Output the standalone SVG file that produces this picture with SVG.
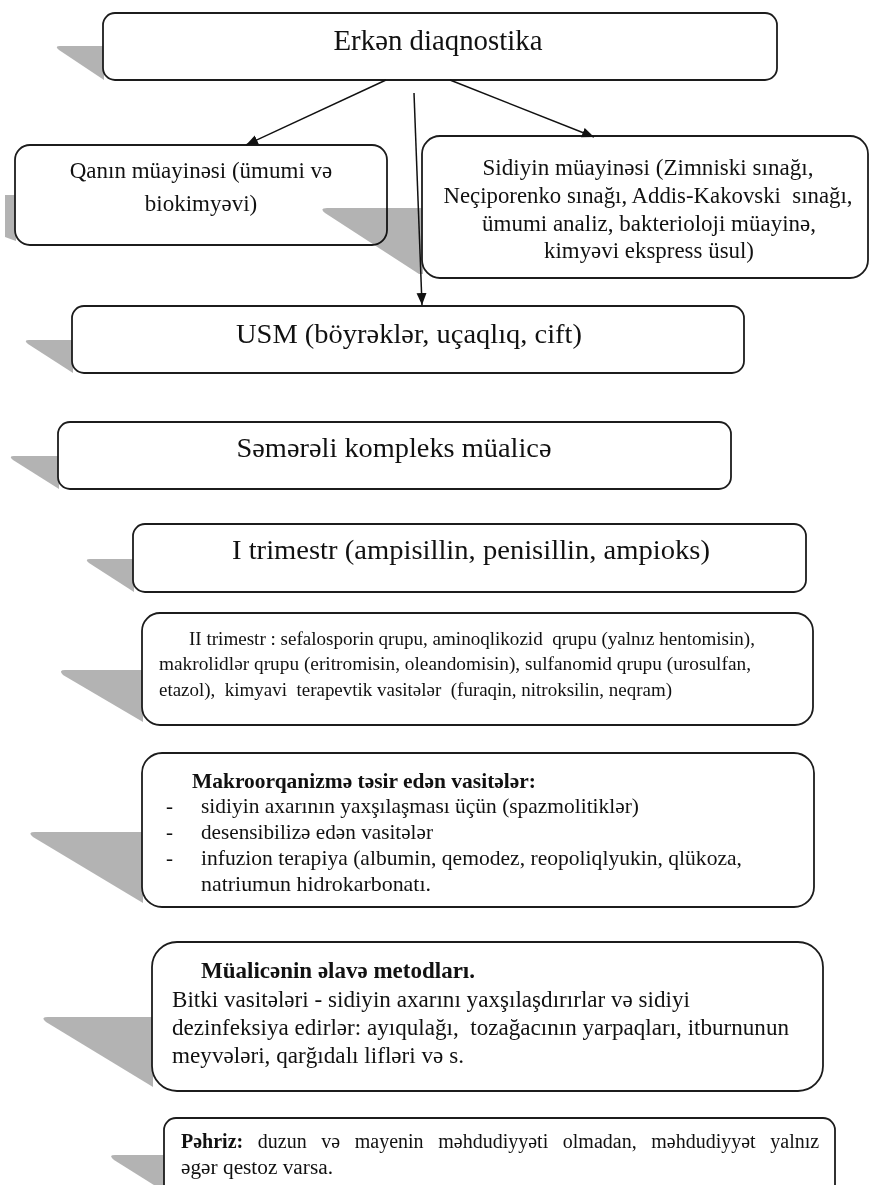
<svg xmlns="http://www.w3.org/2000/svg" width="870" height="1185" viewBox="0 0 870 1185">
<style>
.bg{fill:#ffffff}
.box{fill:#ffffff;stroke:#1c1c1c;stroke-width:1.8}
.sh{fill:#b3b3b3;stroke:none}
.t{font-family:"Liberation Serif","Times New Roman",serif;fill:#111111}
.h{font-size:28px}
.m{font-size:23px}
.s{font-size:18px}
.r{font-size:21px}
.p{font-size:20px}
.b{font-weight:bold}
.c{text-anchor:middle}
.ln{stroke:#111111;stroke-width:1.5;fill:none}
</style>
<defs>
<marker id="ah" markerUnits="userSpaceOnUse" markerWidth="13" markerHeight="11" refX="12" refY="5" orient="auto">
<path d="M0,0 L12,5 L0,10 Z" fill="#111111"/>
</marker>
</defs>
<rect class="bg" x="0" y="0" width="870" height="1185"/>

<g id="shadows">
<path class="sh" d="M104 46 L60 46 Q54 46 59 50 L104 80 Z"/>
<path class="sh" d="M16 195 L5 195 L5 237 L16 241 Z"/>
<path class="sh" d="M73 340 L29 340 Q23 340 28 344 L73 373 Z"/>
<path class="sh" d="M59 456 L14 456 Q8 456 13 460 L59 489 Z"/>
<path class="sh" d="M134 559 L90 559 Q84 559 89 563 L134 592 Z"/>
<path class="sh" d="M143 670 L65 670 Q58 670 63 675 L143 722 Z"/>
<path class="sh" d="M143 832 L35 832 Q27 832 33 837 L143 903 Z"/>
<path class="sh" d="M153 1017 L48 1017 Q40 1017 46 1022 L153 1087 Z"/>
<path class="sh" d="M165 1155 L115 1155 Q108 1155 114 1160 L165 1192 Z"/>
</g>

<g id="node-erken">
<rect class="box" x="103" y="13" width="674" height="67" rx="12"/>
<text class="t c" style="font-size:29px" x="438" y="50" textLength="209" lengthAdjust="spacingAndGlyphs">Erkən diaqnostika</text>
</g>

<g id="node-qan">
<rect class="box" x="15" y="145" width="372" height="100" rx="15"/>
<text class="t m c" x="201" y="178">Qanın müayinəsi (ümumi və</text>
<text class="t m c" x="201" y="211">biokimyəvi)</text>
</g>

<path id="shadow-sidiyin" class="sh" style="mix-blend-mode:multiply" d="M423 208 L327 208 Q319 208 325 213 L419 274 L423 274 Z"/>

<g id="node-sidiyin">
<rect class="box" x="422" y="136" width="446" height="142" rx="18"/>
<text class="t m c" x="648" y="175" textLength="331" lengthAdjust="spacingAndGlyphs">Sidiyin müayinəsi (Zimniski sınağı,</text>
<text class="t m c" x="648" y="203" xml:space="preserve" textLength="409" lengthAdjust="spacingAndGlyphs">Neçiporenko sınağı, Addis-Kakovski  sınağı,</text>
<text class="t m c" x="649" y="231" textLength="334" lengthAdjust="spacingAndGlyphs">ümumi analiz, bakterioloji müayinə,</text>
<text class="t m c" x="649" y="258" textLength="210" lengthAdjust="spacingAndGlyphs">kimyəvi ekspress üsul)</text>
</g>

<g id="node-usm">
<rect class="box" x="72" y="306" width="672" height="67" rx="12"/>
<text class="t h c" x="409" y="343" textLength="346" lengthAdjust="spacingAndGlyphs">USM (böyrəklər, uçaqlıq, cift)</text>
</g>

<g id="node-semereli">
<rect class="box" x="58" y="422" width="673" height="67" rx="12"/>
<text class="t h c" x="394" y="457" textLength="315" lengthAdjust="spacingAndGlyphs">Səmərəli kompleks müalicə</text>
</g>

<g id="node-trim1">
<rect class="box" x="133" y="524" width="673" height="68" rx="12"/>
<text class="t h c" x="471" y="559" textLength="478" lengthAdjust="spacingAndGlyphs">I trimestr (ampisillin, penisillin, ampioks)</text>
</g>

<g id="node-trim2">
<rect class="box" x="142" y="613" width="671" height="112" rx="18"/>
<text class="t s" x="189" y="645" xml:space="preserve" textLength="566" lengthAdjust="spacingAndGlyphs">II trimestr : sefalosporin qrupu, aminoqlikozid  qrupu (yalnız hentomisin),</text>
<text class="t s" x="159" y="670" textLength="592" lengthAdjust="spacingAndGlyphs">makrolidlər qrupu (eritromisin, oleandomisin), sulfanomid qrupu (urosulfan,</text>
<text class="t s" x="159" y="696" xml:space="preserve" textLength="513" lengthAdjust="spacingAndGlyphs">etazol),  kimyavi  terapevtik vasitələr  (furaqin, nitroksilin, neqram)</text>
</g>

<g id="node-makro">
<rect class="box" x="142" y="753" width="672" height="154" rx="20"/>
<text class="t r b" x="192" y="788" textLength="344" lengthAdjust="spacingAndGlyphs">Makroorqanizmə təsir edən vasitələr:</text>
<text class="t r" x="166" y="813">-</text>
<text class="t r" x="201" y="813" textLength="438" lengthAdjust="spacingAndGlyphs">sidiyin axarının yaxşılaşması üçün (spazmolitiklər)</text>
<text class="t r" x="166" y="839">-</text>
<text class="t r" x="201" y="839" textLength="232" lengthAdjust="spacingAndGlyphs">desensibilizə edən vasitələr</text>
<text class="t r" x="166" y="865">-</text>
<text class="t r" x="201" y="865" textLength="541" lengthAdjust="spacingAndGlyphs">infuzion terapiya (albumin, qemodez, reopoliqlyukin, qlükoza,</text>
<text class="t r" x="201" y="891" textLength="230" lengthAdjust="spacingAndGlyphs">natriumun hidrokarbonatı.</text>
</g>

<g id="node-elave">
<rect class="box" x="152" y="942" width="671" height="149" rx="25"/>
<text class="t m b" x="201" y="978" textLength="274" lengthAdjust="spacingAndGlyphs">Müalicənin əlavə metodları.</text>
<text class="t m" x="172" y="1007" textLength="518" lengthAdjust="spacingAndGlyphs">Bitki vasitələri - sidiyin axarını yaxşılaşdırırlar və sidiyi</text>
<text class="t m" x="172" y="1035" xml:space="preserve" textLength="617" lengthAdjust="spacingAndGlyphs">dezinfeksiya edirlər: ayıqulağı,  tozağacının yarpaqları, itburnunun</text>
<text class="t m" x="172" y="1063" textLength="292" lengthAdjust="spacingAndGlyphs">meyvələri, qarğıdalı lifləri və s.</text>
</g>

<g id="node-pehriz">
<rect class="box" x="164" y="1118" width="671" height="90" rx="12"/>
<text class="t p" x="181" y="1148" style="word-spacing:9.6px"><tspan class="b">Pəhriz:</tspan> duzun və mayenin məhdudiyyəti olmadan, məhdudiyyət yalnız</text>
<text class="t p" x="181" y="1174" textLength="152" lengthAdjust="spacingAndGlyphs">əgər qestoz varsa.</text>
</g>

<g id="connectors">
<line class="ln" x1="386" y1="80" x2="246" y2="145" marker-end="url(#ah)"/>
<line class="ln" x1="450" y1="80" x2="594" y2="137" marker-end="url(#ah)"/>
<line class="ln" x1="414" y1="93" x2="422" y2="305" marker-end="url(#ah)"/>
</g>
</svg>
